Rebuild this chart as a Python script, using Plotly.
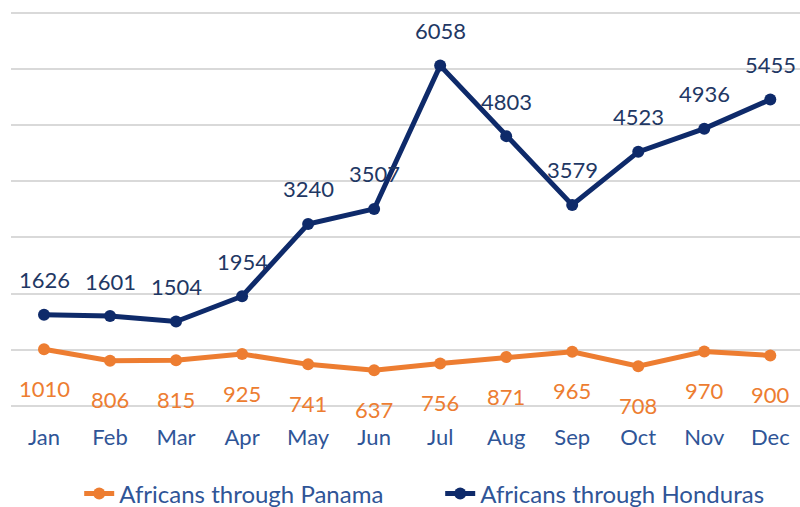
import plotly.graph_objects as go

months = ["Jan", "Feb", "Mar", "Apr", "May", "Jun", "Jul", "Aug", "Sep", "Oct", "Nov", "Dec"]
panama = [1010, 806, 815, 925, 741, 637, 756, 871, 965, 708, 970, 900]
honduras = [1626, 1601, 1504, 1954, 3240, 3507, 6058, 4803, 3579, 4523, 4936, 5455]

NAVY = "#0E2A6A"
ORANGE = "#ED7D31"
FONT = "Lato, Carlito, Calibri, sans-serif"

fig = go.Figure()
fig.add_trace(go.Scatter(
    x=months, y=panama, mode="lines+markers", name="Africans through Panama",
    line=dict(color=ORANGE, width=5), marker=dict(color=ORANGE, size=12),
))
fig.add_trace(go.Scatter(
    x=months, y=honduras, mode="lines+markers", name="Africans through Honduras",
    line=dict(color=NAVY, width=5), marker=dict(color=NAVY, size=12),
))

annotations = []
for m, v in zip(months, honduras):
    annotations.append(dict(x=m, y=v, xref="x", yref="y", text=str(v), showarrow=False,
                            yshift=35, font=dict(family=FONT, size=22, color="#1F3864")))
for m, v in zip(months, panama):
    annotations.append(dict(x=m, y=v, xref="x", yref="y", text=str(v), showarrow=False,
                            yshift=-39, font=dict(family=FONT, size=22, color=ORANGE)))

fig.update_layout(
    width=800, height=507,
    margin=dict(l=11, r=0, t=11, b=101, autoexpand=False),
    paper_bgcolor="white", plot_bgcolor="white",
    font=dict(family=FONT, size=22, color="#2F5597"),
    showlegend=True,
    legend=dict(orientation="h", xref="container", yref="container",
                x=0.099, xanchor="left", y=0.026, yanchor="middle",
                font=dict(family=FONT, size=24, color="#2F5597"),
                entrywidth=316, entrywidthmode="pixels",
                traceorder="normal"),
    annotations=annotations,
    xaxis=dict(range=[-0.5, 11.45], showgrid=False, showline=False, zeroline=False,
               ticks="", ticklabelstandoff=16, automargin=False,
               tickfont=dict(family=FONT, size=22, color="#2F5597")),
    yaxis=dict(range=[0, 7030], dtick=1000, tick0=0, showgrid=True, gridcolor="#D9D9D9", gridwidth=2,
               zeroline=True, zerolinecolor="#D9D9D9", zerolinewidth=2, automargin=False,
               showticklabels=False, ticks=""),
)

fig.write_html("out.html", config={"displayModeBar": False},
               post_script="document.body.style.margin='0';")
